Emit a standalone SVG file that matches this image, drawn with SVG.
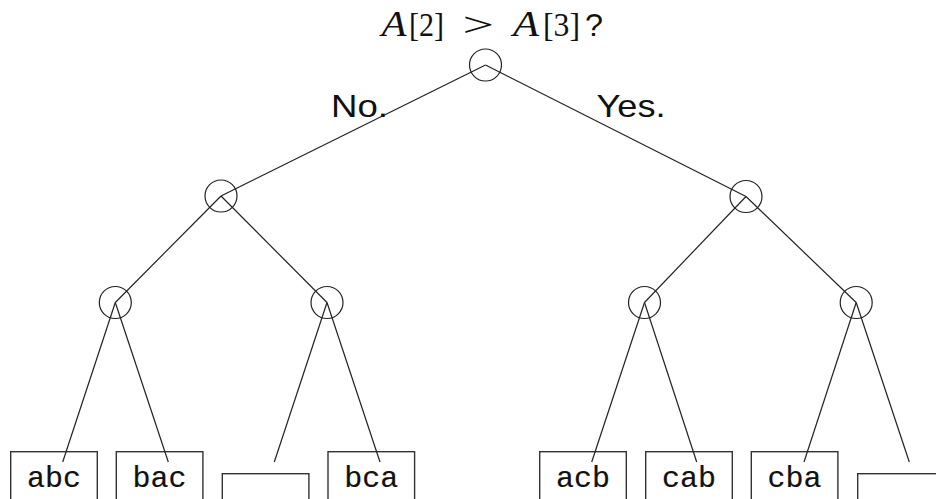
<svg xmlns="http://www.w3.org/2000/svg" width="936" height="499" viewBox="0 0 936 499">
  <style>
    .edge { stroke: #222; stroke-width: 1.2; fill: none; }
    .node { stroke: #222; stroke-width: 1.2; fill: none; }
    .leaf { stroke: #333; stroke-width: 1.4; fill: #fff; }
    .lbl { font-family: "Liberation Mono", "DejaVu Sans Mono", monospace; font-size: 30px; fill: #111; stroke: #111; stroke-width: 0.2; text-anchor: middle; }
    .ans { font-family: "Liberation Sans", Arial, sans-serif; font-size: 32px; fill: #111; }
    .math { font-family: "Liberation Serif", "Times New Roman", serif; font-size: 34px; fill: #111; }
    .mi { font-style: italic; font-size: 35px; }
  </style>
  <rect width="936" height="499" fill="#fff"/>

  <!-- question: A[2] > A[3]? -->
  <g id="question">
    <text class="math mi" x="381.5" y="36" textLength="25" lengthAdjust="spacingAndGlyphs">A</text>
    <text class="math" x="409" y="36" textLength="35" lengthAdjust="spacingAndGlyphs">[2]</text>
    <text class="math" x="462.5" y="36" textLength="31.5" lengthAdjust="spacingAndGlyphs">&gt;</text>
    <text class="math mi" x="513" y="36" textLength="26" lengthAdjust="spacingAndGlyphs">A</text>
    <text class="math" x="543" y="36" textLength="37" lengthAdjust="spacingAndGlyphs">[3]</text>
    <text class="ans" x="585" y="36" font-size="31" textLength="18" lengthAdjust="spacingAndGlyphs">?</text>
  </g>

  <!-- leaf boxes (drawn first; edges end inside them) -->
  <g id="leaf-abc"><rect class="leaf" x="10.7" y="451.7" width="86.6" height="60"/><text class="lbl" x="54" y="487">abc</text></g>
  <g id="leaf-bac"><rect class="leaf" x="116.3" y="451.7" width="86.6" height="60"/><text class="lbl" x="159.6" y="487">bac</text></g>
  <g id="leaf-empty-1"><rect class="leaf" x="222.3" y="473.7" width="86.6" height="60"/></g>
  <g id="leaf-bca"><rect class="leaf" x="328" y="451.7" width="86.6" height="60"/><text class="lbl" x="371.3" y="487">bca</text></g>
  <g id="leaf-acb"><rect class="leaf" x="539.7" y="451.7" width="86.6" height="60"/><text class="lbl" x="583" y="487">acb</text></g>
  <g id="leaf-cab"><rect class="leaf" x="645.7" y="451.7" width="86.6" height="60"/><text class="lbl" x="689" y="487">cab</text></g>
  <g id="leaf-cba"><rect class="leaf" x="751.3" y="451.7" width="86.6" height="60"/><text class="lbl" x="794.6" y="487">cba</text></g>
  <g id="leaf-empty-2"><rect class="leaf" x="857.7" y="473.7" width="86.6" height="60"/></g>

  <!-- connectors -->
  <g id="edges">
    <line class="edge" x1="485.5" y1="65" x2="221" y2="196"/>
    <line class="edge" x1="485.5" y1="65" x2="746" y2="196.5"/>
    <line class="edge" x1="221" y1="196" x2="115.3" y2="302.5"/>
    <line class="edge" x1="221" y1="196" x2="327" y2="302.5"/>
    <line class="edge" x1="746" y1="196.5" x2="644.5" y2="302.5"/>
    <line class="edge" x1="746" y1="196.5" x2="856.2" y2="302.5"/>
    <line class="edge" x1="115.3" y1="302.5" x2="62.7" y2="462"/>
    <line class="edge" x1="115.3" y1="302.5" x2="168.3" y2="462"/>
    <line class="edge" x1="327" y1="302.5" x2="274.3" y2="462"/>
    <line class="edge" x1="327" y1="302.5" x2="380" y2="462"/>
    <line class="edge" x1="644.5" y1="302.5" x2="591.7" y2="462"/>
    <line class="edge" x1="644.5" y1="302.5" x2="696.7" y2="462"/>
    <line class="edge" x1="856.2" y1="302.5" x2="804" y2="462"/>
    <line class="edge" x1="856.2" y1="302.5" x2="909.3" y2="462"/>
  </g>

  <!-- decision nodes -->
  <g id="root"><circle class="node" cx="485.5" cy="65" r="16"/></g>
  <g id="n-left"><circle class="node" cx="221" cy="196" r="16"/></g>
  <g id="n-right"><circle class="node" cx="746" cy="196.5" r="16"/></g>
  <g id="n-ll"><circle class="node" cx="115.3" cy="302.5" r="16"/></g>
  <g id="n-lr"><circle class="node" cx="327" cy="302.5" r="16"/></g>
  <g id="n-rl"><circle class="node" cx="644.5" cy="302.5" r="16"/></g>
  <g id="n-rr"><circle class="node" cx="856.2" cy="302.5" r="16"/></g>

  <!-- branch labels -->
  <g id="branch-labels">
    <text class="ans" x="331" y="117" textLength="57" lengthAdjust="spacingAndGlyphs">No.</text>
    <text class="ans" x="596.5" y="117" textLength="69" lengthAdjust="spacingAndGlyphs">Yes.</text>
  </g>
</svg>
